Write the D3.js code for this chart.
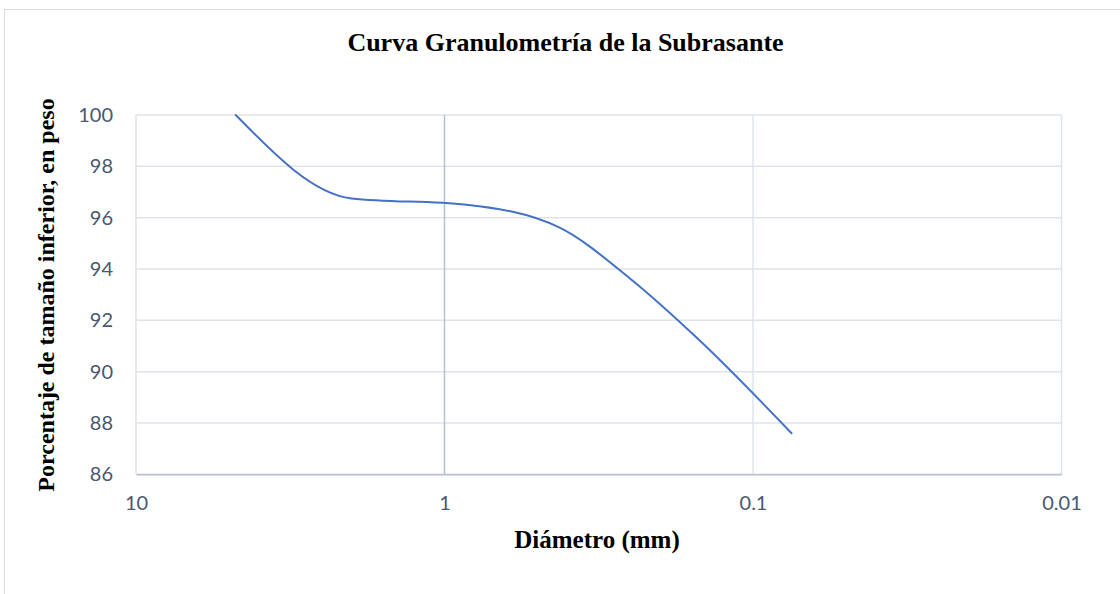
<!DOCTYPE html>
<html>
<head>
<meta charset="utf-8">
<script src="https://cdn.jsdelivr.net/npm/d3@7"></script>
<style>
  html, body { margin: 0; padding: 0; background: #ffffff; }
  svg { display: block; }
</style>
</head>
<body>
<svg id="chart" width="1120" height="594"></svg>
<script>
// ---- Data ----
const diameters = [4.75, 2.0, 0.85, 0.425, 0.25, 0.15, 0.075];
const passing   = [100, 96.75, 96.5, 95.62, 93.62, 91.25, 87.6];
const xTicks = [10, 1, 0.1, 0.01];
const yTicks = [86, 88, 90, 92, 94, 96, 98, 100];
const titleText = "Curva Granulometría de la Subrasante";
const xLabel = "Diámetro (mm)";
const yLabel = "Porcentaje de tamaño inferior, en peso";

// ---- Layout ----
const plot = { left: 136, right: 1061.5, top: 115, bottom: 474.3 };
const svg = d3.select("#chart");

// chart border
svg.append("rect")
  .attr("x", 4.5).attr("y", 9.5)
  .attr("width", 1130).attr("height", 600)
  .attr("fill", "#ffffff")
  .attr("stroke", "#d9dde3").attr("stroke-width", 1);

const x = d3.scaleLog().domain([10, 0.01]).range([plot.left, plot.right]);
const y = d3.scaleLinear().domain([86, 100]).range([plot.bottom, plot.top]);

// horizontal gridlines
svg.append("g").selectAll("line").data(yTicks).join("line")
  .attr("x1", plot.left).attr("x2", plot.right)
  .attr("y1", d => y(d)).attr("y2", d => y(d))
  .attr("stroke", "#dfe3ea").attr("stroke-width", 1.5);

// vertical gridlines
svg.append("g").selectAll("line").data(xTicks).join("line")
  .attr("x1", d => x(d)).attr("x2", d => x(d))
  .attr("y1", plot.top).attr("y2", plot.bottom)
  .attr("stroke", d => d === 1 ? "#b8c0cf" : "#dfe3ea")
  .attr("stroke-width", 1.5);

// bottom axis
const xAxis = d3.axisBottom(x).tickValues(xTicks).tickSize(0).tickPadding(22)
  .tickFormat(d => String(d));
const gx = svg.append("g").attr("transform", `translate(0,${plot.bottom})`).call(xAxis);
gx.select(".domain").attr("stroke", "#b8c0cf").attr("stroke-width", 1.5);
gx.selectAll("text")
  .attr("font-family", "Lato, 'Open Sans', sans-serif")
  .attr("font-size", 20).attr("fill", "#4a5870");

// left axis labels
const yAxis = d3.axisLeft(y).tickValues(yTicks).tickSize(0).tickPadding(23)
  .tickFormat(d => String(d));
const gy = svg.append("g").attr("transform", `translate(${plot.left},0)`).call(yAxis);
gy.select(".domain").remove();
gy.selectAll("text")
  .attr("font-family", "Lato, 'Open Sans', sans-serif")
  .attr("font-size", 20).attr("fill", "#4a5870");

// curve
const pts = diameters.map((d, i) => [d, passing[i]]);
const line = d3.line()
  .x(d => x(d[0])).y(d => y(d[1]))
  .curve(d3.curveMonotoneX);
svg.append("path")
  .datum(pts)
  .attr("d", line)
  .attr("fill", "none")
  .attr("stroke", "#4472c4")
  .attr("stroke-width", 2)
  .attr("stroke-linecap", "round");

// title
svg.append("text")
  .attr("x", 565.5).attr("y", 51)
  .attr("text-anchor", "middle")
  .attr("font-family", "'Liberation Serif', 'Times New Roman', serif")
  .attr("font-weight", "bold").attr("font-size", 26)
  .attr("fill", "#000")
  .text(titleText);

// x label
svg.append("text")
  .attr("x", 597).attr("y", 548)
  .attr("text-anchor", "middle")
  .attr("font-family", "'Liberation Serif', 'Times New Roman', serif")
  .attr("font-weight", "bold").attr("font-size", 25)
  .attr("fill", "#000")
  .text(xLabel);

// y label
svg.append("text")
  .attr("transform", `translate(54,295) rotate(-90)`)
  .attr("text-anchor", "middle")
  .attr("font-family", "'Liberation Serif', 'Times New Roman', serif")
  .attr("font-weight", "bold").attr("font-size", 24)
  .attr("fill", "#000")
  .text(yLabel);
</script>
</body>
</html>
